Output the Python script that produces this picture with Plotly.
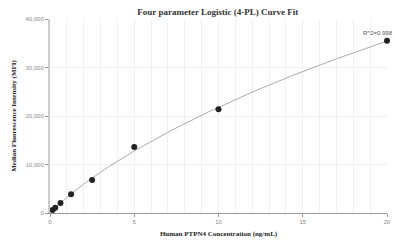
import numpy as np
import plotly.graph_objects as go

conc = [0.156, 0.3125, 0.625, 1.25, 2.5, 5, 10, 20]
mfi = [600, 1100, 2050, 3850, 6800, 13600, 21400, 35500]
r2_label = "R^2=0.998"

x = np.array(conc, dtype=float)
y = np.array(mfi, dtype=float)

# 4PL fit: y = D + (A - D) / (1 + (x/C)^B); grid search on B, C, linear LS for A, D
best = None
for B in np.linspace(0.5, 2.0, 151):
    for C in np.logspace(-0.5, 3, 300):
        f = (x / C) ** B / (1 + (x / C) ** B)
        M = np.vstack([1 - f, f]).T
        coef, *_ = np.linalg.lstsq(M, y, rcond=None)
        res = np.sum((M @ coef - y) ** 2)
        if best is None or res < best[0]:
            best = (res, B, C, coef[0], coef[1])
_, B, C, A, D = best
xc = np.linspace(0.0, 20, 300)
yc = D + (A - D) / (1 + (xc / C) ** B)

fig = go.Figure()
fig.add_trace(go.Scatter(x=xc, y=yc, mode="lines", cliponaxis=False,
                         line=dict(color="#aaaaaa", width=1), hoverinfo="skip"))
fig.add_trace(go.Scatter(x=conc, y=mfi, mode="markers", cliponaxis=False,
                         marker=dict(color="#222222", size=6)))
fig.add_annotation(x=conc[-1], y=mfi[-1], text=r2_label, showarrow=False,
                   yshift=8, xanchor="right", xshift=8,
                   font=dict(size=6, color="#555555", family="Liberation Sans"))

fig.update_layout(
    width=396, height=243,
    margin=dict(l=50, r=9, t=19, b=30),
    paper_bgcolor="white", plot_bgcolor="white",
    showlegend=False,
    title=dict(text="<b>Four parameter Logistic (4-PL) Curve Fit</b>",
               x=0.55, xanchor="center", y=0.953, yanchor="middle",
               font=dict(family="Liberation Serif", size=9, color="#333333")),
    xaxis=dict(range=[0, 20], tickvals=[0, 5, 10, 15, 20], automargin=False,
               showgrid=False,
               minor=dict(dtick=1, showgrid=True, gridcolor="#eef0f4", gridwidth=1),
               showline=True, linecolor="#999999", linewidth=1,
               ticks="outside", ticklen=3, tickcolor="#999999",
               tickfont=dict(size=6, color="#888888", family="Liberation Sans"),
               zeroline=False,
               title=dict(text="<b>Human PTPN4 Concentration (ng/mL)</b>", standoff=6,
                          font=dict(family="Liberation Serif", size=7, color="#222222"))),
    yaxis=dict(range=[0, 40000], tickvals=[0, 10000, 20000, 30000, 40000],
               tickformat=",", showgrid=True, gridcolor="#eef0f4", automargin=False,
               showline=True, linecolor="#cccccc", linewidth=2,
               ticks="outside", ticklen=3, tickcolor="#999999",
               tickfont=dict(size=6, color="#888888", family="Liberation Sans"),
               zeroline=False,
               title=dict(text="<b>Median Fluorescence Intensity (MFI)</b>", standoff=8,
                          font=dict(family="Liberation Serif", size=7, color="#222222"))),
)
fig.write_html("out.html", config={"displayModeBar": False},
               post_script="document.body.style.margin='0';document.body.style.overflow='hidden';")
